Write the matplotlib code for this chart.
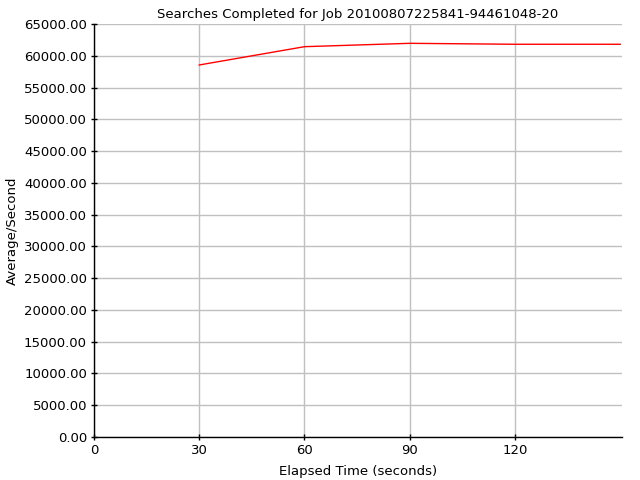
import matplotlib
matplotlib.use("Agg")
import matplotlib.pyplot as plt
from matplotlib.ticker import FormatStrFormatter

# data
elapsed = [30, 60, 90, 120, 150]
avg_per_sec = [58550, 61430, 61960, 61810, 61810]
x_ticks = [0, 30, 60, 90, 120]
y_ticks = list(range(0, 65001, 5000))

fig = plt.figure(figsize=(6.4, 4.8), dpi=100)
ax = fig.add_axes([94 / 640, 1 - 437 / 480, (622 - 94) / 640, (437 - 24) / 480])

ax.plot(elapsed, avg_per_sec, color="#ff0000", linewidth=1.0)

ax.set_xlim(0, 150.5)
ax.set_ylim(0, 65000)
ax.set_xticks(x_ticks)
ax.set_yticks(y_ticks)
ax.yaxis.set_major_formatter(FormatStrFormatter("%.2f"))
ax.grid(True, color="#c0c0c0", linewidth=1.0)
ax.set_axisbelow(True)

for s in ["top", "right"]:
    ax.spines[s].set_visible(False)
for s in ["left", "bottom"]:
    ax.spines[s].set_linewidth(1.0)
    ax.spines[s].set_color("black")

ax.tick_params(direction="inout", length=4, width=1, labelsize=9.5, pad=3)
ax.set_title("Searches Completed for Job 20100807225841-94461048-20", fontsize=9.5, pad=4)
ax.set_xlabel("Elapsed Time (seconds)", fontsize=9.5, labelpad=6)
ax.set_ylabel("Average/Second", fontsize=9.5, labelpad=4)

fig.savefig("out.png", dpi=100)
